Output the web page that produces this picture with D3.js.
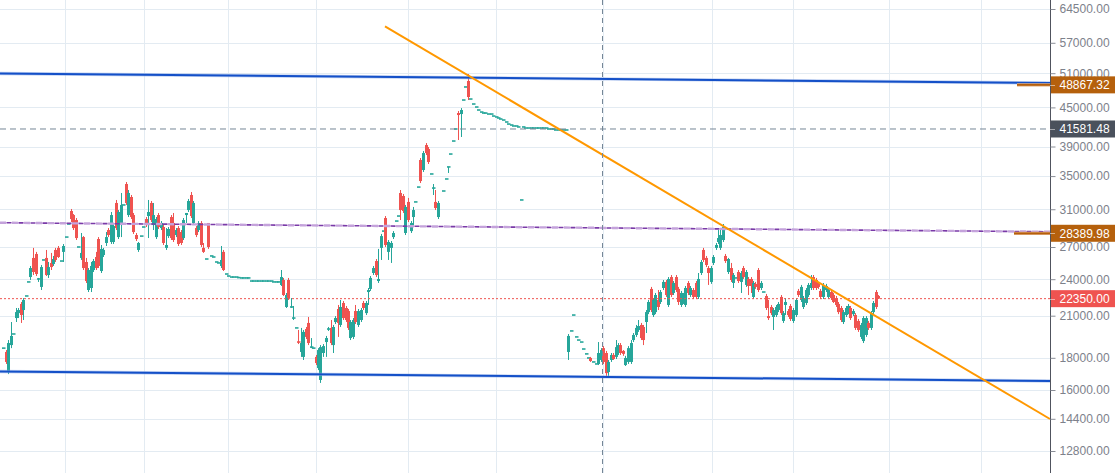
<!DOCTYPE html>
<html><head><meta charset="utf-8">
<script src="https://cdn.jsdelivr.net/npm/d3@7"></script>
<style>html,body{margin:0;padding:0;background:#fff;overflow:hidden}</style>
</head><body><svg id="c" width="1115" height="473"></svg>
<script>
// candle data (one entry per bar, time index = array position; null = no trade)
const open=[
18650,18390,17090,18860,19640,20820,21200,21920,21440,22570,
23760,24190,25940,26320,23930,23330,25750,25940,24370,25470,
25370,26710,26910,25650,26520,28000,29370,30800,30350,29800,
27000,25940,28000,25560,23070,23240,24820,26030,27800,24730,
26220,27400,28730,27500,27500,31720,28000,29260,31490,34000,
30350,32420,30350,28210,26710,28100,29050,29910,30240,31720,
29260,28000,30350,28940,29050,26910,28100,30130,29480,28210,
28940,28520,27900,30350,30910,32660,29480,28940,28730,29480,
26910,25840,29480,26130,26030,25560,25470,25190,26520,24460,
24280,24190,24190,24190,24140,24110,24110,24110,24110,23840,
23840,23840,23840,23840,23840,23840,23840,23840,23760,23760,
23760,23500,23930,21680,23930,21680,20820,20080,19070,18390,
18060,20000,20450,18720,18650,18060,17340,16600,18320,19070,
19930,20080,18860,20520,21520,20300,22000,21600,21360,19350,
19430,21360,20300,20670,22000,21200,22900,23160,24550,25650,
23840,26910,28620,30020,26520,26910,28000,29690,30240,32900,
32540,28420,31840,28620,30130,31840,33620,37120,35790,39210,
38640,35270,33500,31840,30130,null,33140,34630,36190,37940,
39790,41580,44080,43920,46230,48490,49560,46400,45560,45060,
44570,44240,44080,44080,43920,43920,43600,43450,43290,43130,
42970,42660,42340,42190,42040,42040,41890,32070,41890,41730,
41730,41730,41730,41730,41730,41730,41730,41730,41580,41580,
41580,41430,41430,41430,41430,41430,18390,19860,21050,19430,
19210,19070,18590,18260,17990,17990,17730,17600,17600,17860,
18650,18320,17090,17860,18190,18060,18390,18860,18460,17530,
17730,17730,19210,19570,19930,20300,20150,20520,21280,23160,
21050,21280,22240,22080,23240,23760,21840,24190,22820,24190,
23160,21840,22080,21840,23670,22650,23070,23670,22490,24550,
26710,25940,25000,23760,25470,26910,27500,26910,27700,26130,
24640,25000,23670,24110,24640,23760,25000,23500,24020,24020,
22490,23590,24820,23240,22900,22570,20970,21680,20900,21050,
21440,22490,20600,21840,21360,21760,20600,21050,22990,22240,
21680,22000,22650,23240,24190,23930,23590,22990,22490,23070,
22490,22900,22650,22400,21920,21600,20520,21050,21280,21600,
21120,21050,20600,19430,19140,19570,20450,20080,21280,22900,
22570];
const high=[
18650,18520,19210,20520,19640,21600,21600,22080,22400,22570,
23760,25190,26910,26520,24110,25280,25750,26710,25560,26420,
26130,26910,27100,25650,27300,28000,29370,31030,30460,30020,
27000,28420,28100,25940,25000,25560,25840,26520,28000,27200,
26910,28520,28940,30690,29370,32070,30910,32900,31490,34250,
33260,32660,30580,28420,27500,28100,29050,30130,32070,31950,
31720,30130,30580,29690,29260,28940,29050,30350,30580,28940,
29150,28730,30020,30580,32190,33020,31950,29150,29690,29690,
27400,25840,29480,26130,26030,25560,25470,27100,26710,24460,
24280,24190,24190,24190,24140,24110,24110,24110,24110,23840,
23840,23840,23840,23840,23840,23840,23840,23840,23760,23760,
23760,24820,24110,22820,24110,22400,21760,20080,19930,20080,
19930,20150,20900,19350,18650,18190,18650,18860,18930,19500,
20150,20670,20300,20970,21840,22240,22160,21760,21520,20670,
20820,21840,21520,21600,22160,22160,23240,24280,25190,25840,
26810,28320,28620,30240,27700,27600,28620,29690,30240,33260,
32780,31490,32310,29690,31260,31840,33620,37390,38360,39500,
38930,35270,34000,33260,31950,null,33140,34630,36190,37940,
39790,41580,44410,44890,46230,48490,50850,46400,45560,45060,
44570,44240,44080,44080,43920,43920,43600,43450,43290,43130,
42970,42660,42340,42190,42040,42040,41890,32070,41890,41730,
41730,41730,41730,41730,41730,41730,41730,41730,41580,41580,
41580,41430,41430,41430,41430,41430,19640,19860,21050,19430,
19210,19070,18590,18260,17990,18060,17730,17600,19070,18650,
18790,18460,17860,18320,18320,19210,19000,19000,18520,18130,
18790,19210,19710,20300,20670,20450,20300,21440,22240,23330,
22400,22820,23070,23070,23930,23930,24190,24370,23840,24370,
23330,22990,22820,23410,23840,23410,23240,23840,24550,25750,
26910,26130,25190,25190,26220,27400,28730,28840,29370,26320,
25940,25470,24550,24110,24820,24730,25190,24820,24190,24190,
23840,23760,25000,23840,22900,22740,22240,21840,21600,21840,
22080,22650,21360,22400,21520,21920,21600,22400,23160,23500,
22570,23240,23670,24370,24370,24110,23760,23160,23670,23590,
23240,23070,22820,22570,22080,21760,21440,21760,21920,21760,
21520,21200,20750,20450,20970,20970,20600,21360,22160,23070,
22650];
const low=[
18650,17600,16960,18650,19640,20520,20820,20450,20670,22570,
23760,23930,24370,24280,23760,23070,25750,24280,24110,24820,
25190,25560,25940,25650,25560,28000,29370,29580,28730,27700,
27000,25750,24820,23670,22900,22900,24640,24820,25000,24550,
26030,27100,28000,27300,27300,28730,27800,28000,31490,31490,
30130,29910,28320,27600,26520,28100,29050,29050,27900,29580,
28730,27800,28840,28730,27200,26710,27900,27700,27500,28000,
27100,27200,27700,29480,30690,30020,29260,28000,28520,27000,
26420,25840,26810,26130,26030,25560,25470,25000,24730,24460,
24280,24190,24190,24190,24140,24110,24110,24110,24110,23840,
23840,23840,23840,23840,23840,23840,23840,23840,23760,23760,
23760,23410,22570,21600,22240,21600,20670,20080,18930,18060,
17860,19280,18860,18650,18650,17530,17210,16420,18060,18060,
19860,18860,18320,20370,19430,20150,20670,20520,19930,19210,
19280,20370,20150,20520,21440,21050,21840,22990,24370,24190,
23670,25750,28620,27000,25750,25470,27800,29690,30240,29800,
30580,28210,29580,28420,29050,31840,33620,34120,35530,37800,
36580,35270,32660,30910,29910,null,33140,34630,35400,37940,
39790,41580,39940,40380,46230,48490,46230,46400,45560,45060,
44570,44240,44080,44080,43920,43920,43600,43450,43290,43130,
42970,42660,42340,42190,42040,42040,41890,32070,41890,41730,
41730,41730,41730,41730,41730,41730,41730,41730,41580,41580,
41580,41430,41430,41430,41430,41430,17860,19860,21050,19430,
19210,19070,18590,18260,17990,17730,17730,17600,17530,17730,
17600,16720,16780,17730,17860,17920,18190,18190,18130,17470,
17600,17600,19070,19430,19790,19210,18860,19710,21120,21280,
20900,21120,21440,21920,23070,22490,21680,22490,22650,22900,
21840,21680,21920,21680,22650,22490,22320,22320,22320,24370,
25560,25090,23500,23590,25280,26710,27300,26710,27500,25470,
24460,23760,23240,24110,23670,22820,24020,23330,22650,22820,
22320,23160,22900,23070,22900,21440,20670,21050,19930,20900,
21280,21050,20450,21050,20900,20600,20450,20900,22490,22080,
21520,21840,22490,23070,23070,23070,23160,22320,22320,22900,
22320,22240,22000,21680,21120,20520,20370,20900,21120,20670,
20970,19930,19790,19280,19000,19430,19930,19930,21120,21520,
22320];
const close=[
18650,17730,19000,19500,19640,21280,21440,21050,22240,22570,
23760,25000,24640,24460,24020,25090,25750,24370,25090,25090,
25840,25750,26030,25650,27100,28000,29370,29910,28940,27900,
27000,26420,25000,23840,24820,25190,25650,25000,25190,26810,
26710,28000,28210,30350,29150,28940,30690,31490,31490,31720,
32900,30130,28520,27800,27400,28100,29050,29260,30690,29800,
30350,29910,29050,29480,27400,27200,28840,27900,27700,28730,
27300,27400,29800,30580,31950,30240,31720,28210,29480,27200,
26520,25840,27000,26130,26030,25560,25470,25750,24820,24460,
24280,24190,24190,24190,24140,24110,24110,24110,24110,23840,
23840,23840,23840,23840,23840,23840,23840,23840,23760,23760,
23760,24190,22650,22650,22400,21680,20820,20080,19000,19000,
19790,19430,19000,18720,18650,17660,18520,18720,18790,19350,
20000,19000,20150,20820,20450,21680,20820,20670,20080,20520,
20670,20520,21360,21440,21600,22000,23070,24110,25000,24370,
24020,28100,28620,27200,27500,27400,28420,29690,30240,30910,
30800,31260,29800,29480,30910,31840,33620,34370,38080,38080,
36850,35270,33500,31140,31720,null,33140,34630,36190,37940,
39790,41580,43760,44570,46230,48490,46740,46400,45560,45060,
44570,44240,44080,44080,43920,43920,43600,43450,43290,43130,
42970,42660,42340,42190,42040,42040,41890,32070,41890,41730,
41730,41730,41730,41730,41730,41730,41730,41730,41580,41580,
41580,41430,41430,41430,41430,41430,19500,19860,21050,19430,
19210,19070,18590,18260,17990,17790,17730,17600,18320,18520,
17730,17020,17730,18190,17920,18720,18860,18320,18260,17990,
18650,19000,19570,20080,20220,19350,19210,21280,22080,21440,
22240,22650,21680,22900,23760,22650,24020,22650,23670,23070,
22080,22820,22650,23240,22820,23240,22490,22490,24020,25560,
25750,25280,24550,25000,26030,27200,27900,28210,29050,25650,
25840,23930,24370,24110,23840,24550,24190,24640,23410,23410,
23670,23330,23070,23670,22900,21600,20820,21200,21440,21680,
21920,21200,21200,22080,21050,20750,21440,22240,22650,23330,
22400,23070,23500,23670,23240,23240,23330,22490,23500,23410,
23070,22400,22080,21840,21280,20670,21280,21600,21760,20820,
21360,20080,19930,20300,20820,20820,20080,21200,22000,21680,
22350];

// price scale ticks
const yTicks=[12800,14400,16000,18000,21000,24000,27000,31000,35000,39000,45000,51000,57000,64500];
// vertical (date) grid positions in bar index units
const gridT=[24.8,56.4,90,125.2,162,197.2,240,283.6,316,354.4,391.2];
// drawings: [barIndex, price]
const channelTop=[[-1.2,50940],[418.8,49200]];
const channelBottom=[[-1.2,17120],[418.8,16540]];
const trendLine=[[152.8,60520],[418.8,14390]];
const purpleLine=[[-1.2,29510],[418.8,28550]];
const rayTop=[[405.6,48867.32],[418.8,48867.32]];
const rayMid=[[404.4,28389.98],[418.8,28389.98]];
const crossT=239.4, crossPrice=41581.48, lastPrice=22350;
const labelPrices=[48867.32,41581.48,28389.98,22350.00];

const W=1115,H=473,PW=1050;
const svg=d3.select('#c');
const x=d3.scaleLinear().domain([-1.2,418.8]).range([0,PW]);
const y=d3.scaleLog().domain([12800,64500]).range([451,9]);
const font='"Liberation Sans", Arial, sans-serif';

// grid
const g=svg.append('g');
g.selectAll('.hg').data(yTicks).enter().append('line')
 .attr('x1',0).attr('x2',PW).attr('y1',d=>Math.round(y(d))+0.5).attr('y2',d=>Math.round(y(d))+0.5)
 .attr('stroke','#e3ebf2').attr('stroke-width',1);
g.selectAll('.vg').data(gridT).enter().append('line')
 .attr('x1',d=>Math.round(x(d))+0.5).attr('x2',d=>Math.round(x(d))+0.5).attr('y1',0).attr('y2',H)
 .attr('stroke','#e3ebf2').attr('stroke-width',1);

// candles
const UP='#26a69a',DN='#ef5350';
const idx=d3.range(open.length).filter(i=>open[i]!=null);
const cg=svg.append('g');
idx.forEach(i=>{
  const cx=Math.round(x(i));
  const col=close[i]>=open[i]?UP:DN;
  const yh=y(high[i]),yl=y(low[i]);
  if(yl-yh>1.2){
    cg.append('line').attr('x1',cx+0.5).attr('x2',cx+0.5).attr('y1',yh).attr('y2',yl)
      .attr('stroke',col).attr('stroke-width',1);
  }
  const yo=y(open[i]),yc=y(close[i]);
  const flat=Math.abs(yo-yc)<1.6;
  const top=Math.min(yo,yc),h=Math.max(1.6,Math.abs(yo-yc));
  cg.append('rect').attr('x',cx-1).attr('width',flat?3.5:3).attr('y',top-(flat?0.8:0)).attr('height',h)
    .attr('fill',col);
});

// drawings
const line=d3.line().x(d=>x(d[0])).y(d=>y(d[1]));
const dg=svg.append('g');
// horizontal last price dotted
dg.append('line').attr('x1',0).attr('x2',PW).attr('y1',y(lastPrice)).attr('y2',y(lastPrice))
  .attr('stroke','#ef5350').attr('stroke-width',1).attr('stroke-dasharray','2,2');
// purple dashed two-tone
dg.append('path').attr('d',line(purpleLine)).attr('fill','none').attr('stroke','#c4a2db')
  .attr('stroke-width',2.4).attr('stroke-dasharray','6,6');
dg.append('path').attr('d',line(purpleLine)).attr('fill','none').attr('stroke','#7a3aa8')
  .attr('stroke-width',1.6).attr('stroke-dasharray','5,7').attr('stroke-dashoffset',5.5);
// channel
[channelTop,channelBottom].forEach(p=>{
  dg.append('path').attr('d',line(p)).attr('fill','none').attr('stroke','#9bb6ea').attr('stroke-width',3.4).attr('opacity',0.6);
  dg.append('path').attr('d',line(p)).attr('fill','none').attr('stroke','#1450c8').attr('stroke-width',2);
});
// trend line
dg.append('path').attr('d',line(trendLine)).attr('fill','none').attr('stroke','#ff9800').attr('stroke-width',2);
// short rays at right
[rayTop,rayMid].forEach(p=>{
  dg.append('path').attr('d',line(p)).attr('fill','none').attr('stroke','#e0a877').attr('stroke-width',3.2);
  dg.append('path').attr('d',line(p)).attr('fill','none').attr('stroke','#b55f0c').attr('stroke-width',1.8);
});
// crosshair
dg.append('line').attr('x1',0).attr('x2',PW).attr('y1',y(crossPrice)).attr('y2',y(crossPrice))
  .attr('stroke','#758696').attr('stroke-width',1).attr('stroke-dasharray','6,4');
dg.append('line').attr('x1',Math.round(x(crossT))+0.5).attr('x2',Math.round(x(crossT))+0.5).attr('y1',0).attr('y2',H)
  .attr('stroke','#758696').attr('stroke-width',1).attr('stroke-dasharray','5,4');

// right price axis
const ax=svg.append('g');
ax.append('rect').attr('x',PW).attr('y',0).attr('width',W-PW).attr('height',H).attr('fill','#fff');
const axis=d3.axisRight(y).tickValues(yTicks).tickSize(5).tickPadding(4).tickFormat(d3.format('.2f'));
const ag=ax.append('g').attr('transform',`translate(${PW+0.5},0)`).call(axis);
ag.select('.domain').attr('stroke','#50535e').attr('d',`M0,0V${H}`);
ag.selectAll('.tick line').attr('stroke','#8a8e97');
ag.selectAll('.tick text').attr('fill','#7d818b').style('font-family',font).style('font-size','12px');

// price labels
const labelColors=['#b5600c','#4a515c','#b5600c','#ef5350'];
labelPrices.forEach((p,k)=>{
  const yy=y(p);
  ax.append('rect').attr('x',PW+1).attr('y',yy-8.5).attr('width',W-PW-1).attr('height',17).attr('fill',labelColors[k]);
  ax.append('line').attr('x1',PW).attr('x2',PW+5).attr('y1',Math.round(yy)+0.5).attr('y2',Math.round(yy)+0.5).attr('stroke','#fff').attr('opacity',0.5);
  ax.append('text').attr('x',PW+9.5).attr('y',yy).attr('dy','0.36em').attr('fill','#fff')
    .style('font-family',font).style('font-size','12px').text(d3.format('.2f')(p));
});
</script>
</body></html>
